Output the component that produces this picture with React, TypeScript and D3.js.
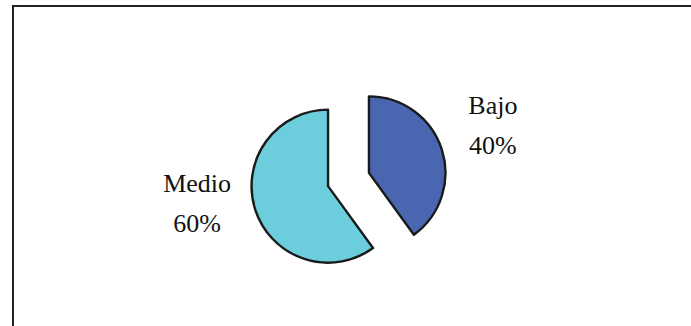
import React from "react";
import * as d3 from "d3";

const categories = ["Bajo", "Medio"];
const values = [40, 60];
const percentLabels = ["40%", "60%"];
const colors = ["#4a66b0", "#6ccedc"];

const W = 691;
const H = 326;
const cx = 348.5;
const cy = 179.5;
const R = 76.5;
const explode = 21.5;

export default function App() {
  const pie = d3
    .pie<number>()
    .sort(null)
    .value((d) => d)
    .startAngle(0)
    .endAngle(2 * Math.PI);
  const arcs = pie(values);
  const arc = d3.arc<d3.PieArcDatum<number>>().innerRadius(0).outerRadius(R);

  const labelNudge = [
    { dx: -3, dy: -17.6 },
    { dx: -4, dy: -35 },
  ];

  return (
    <svg
      width={W}
      height={H}
      style={{ position: "absolute", left: 0, top: 0, background: "#fff" }}
    >
      <rect x={13} y={6} width={W + 20} height={H + 20} fill="#fff" stroke="#222" strokeWidth={2} />
      {arcs.map((a, i) => {
        const mid = (a.startAngle + a.endAngle) / 2;
        const ox = explode * Math.sin(mid);
        const oy = -explode * Math.cos(mid);
        return (
          <path
            key={categories[i]}
            d={arc(a) || ""}
            transform={`translate(${cx + ox},${cy + oy})`}
            fill={colors[i]}
            stroke="#1a1a1a"
            strokeWidth={2.4}
            strokeLinejoin="round"
          />
        );
      })}
      {arcs.map((a, i) => {
        const mid = (a.startAngle + a.endAngle) / 2;
        const lr = 155;
        const x = cx + lr * Math.sin(mid) + labelNudge[i].dx;
        const y = cy - lr * Math.cos(mid) + labelNudge[i].dy;
        return (
          <text
            key={"l" + i}
            x={x}
            y={y}
            textAnchor="middle"
            style={{ fontFamily: '"Liberation Serif", "Times New Roman", serif', fontSize: "26px" }}
            fill="#111"
          >
            <tspan x={x} y={y}>{categories[i]}</tspan>
            <tspan x={x} y={y + 40}>{percentLabels[i]}</tspan>
          </text>
        );
      })}
    </svg>
  );
}
